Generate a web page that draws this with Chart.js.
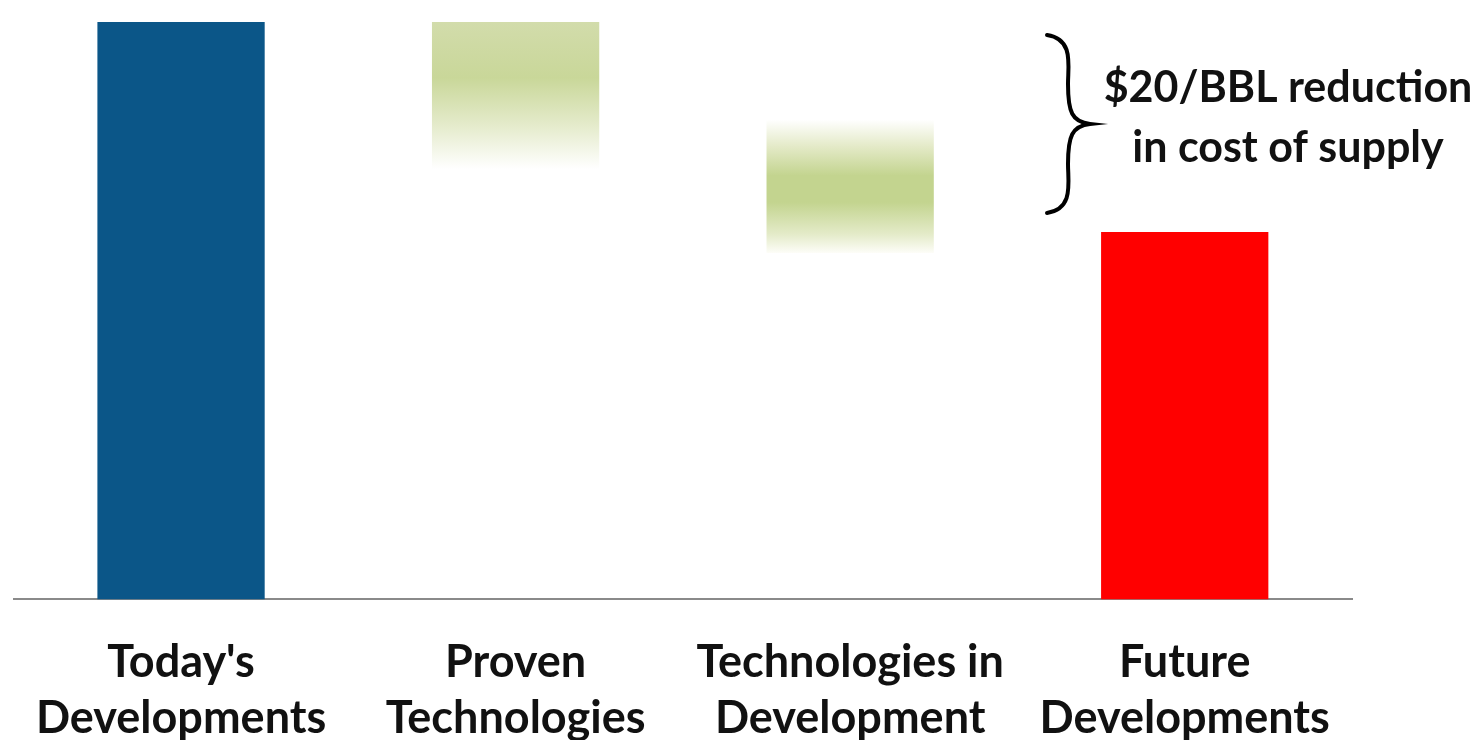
<!DOCTYPE html>
<html>
<head>
<meta charset="utf-8">
<script src="https://cdn.jsdelivr.net/npm/chart.js@4.4.1/dist/chart.umd.min.js"></script>
<style>
  html, body { margin: 0; padding: 0; background: #fff; }
  .chart-box { width: 1479px; height: 740px; }
</style>
</head>
<body>
<div class="chart-box"><canvas id="chart"></canvas></div>
<script>
const categories = [
  ["Today's", 'Developments'],
  ['Proven', 'Technologies'],
  ['Technologies in', 'Development'],
  ['Future', 'Developments'],
];
// floating bars: bottom and top of each bar ($/BBL)
const barLow = [0, 41, 33, 0];
const barHigh = [55, 55, 45.7, 35];
const reductionFrom = 55;
const reductionTo = 35;
const reductionText = ['$20/BBL reduction', 'in cost of supply'];

const FONT = 'Lato, "Open Sans", sans-serif';

function barColor(ctx) {
  const i = ctx.dataIndex;
  if (i === 0) return '#0b5688';
  if (i === 3) return '#ff0000';
  const chart = ctx.chart;
  const y = chart.scales.y;
  if (!y || !chart.chartArea) return '#c9d79a';
  const top = y.getPixelForValue(barHigh[i]);
  const bot = y.getPixelForValue(barLow[i]);
  const g = chart.ctx.createLinearGradient(0, top, 0, bot);
  if (i === 1) {
    g.addColorStop(0, '#d2dcab');
    g.addColorStop(0.38, '#c9d799');
    g.addColorStop(0.72, '#e6ecce');
    g.addColorStop(1, '#ffffff');
  } else {
    g.addColorStop(0, '#ffffff');
    g.addColorStop(0.2, '#e4eac8');
    g.addColorStop(0.42, '#c3d48f');
    g.addColorStop(0.62, '#c3d48f');
    g.addColorStop(0.86, '#e4ebc9');
    g.addColorStop(1, '#fdfdf8');
  }
  return g;
}

// curly brace + note on the right
const bracePlugin = {
  id: 'brace',
  afterDatasetsDraw(chart) {
    const { ctx } = chart;
    const y = chart.scales.y;
    const y1 = y.getPixelForValue(reductionFrom) + 13;
    const y2 = y.getPixelForValue(reductionTo) - 19;
    const mid = (y1 + y2) / 2;
    const x0 = 1047, xm = 1068, xt = 1090;
    ctx.save();
    ctx.strokeStyle = '#000';
    ctx.lineWidth = 4;
    ctx.lineCap = 'round';
    ctx.beginPath();
    ctx.moveTo(x0, y1);
    ctx.bezierCurveTo(xm + 6, y1 + 4, xm, y1 + 30, xm, mid - 40);
    ctx.bezierCurveTo(xm, mid - 12, xm + 4, mid - 2, xt, mid);
    ctx.bezierCurveTo(xm + 4, mid + 2, xm, mid + 12, xm, mid + 40);
    ctx.bezierCurveTo(xm, y2 - 30, xm + 6, y2 - 4, x0, y2);
    ctx.stroke();
    ctx.fillStyle = '#111';
    ctx.font = 'bold 43px ' + FONT;
    ctx.textAlign = 'center';
    ctx.textBaseline = 'middle';
    ctx.fillText(reductionText[0], 1288, mid - 36);
    ctx.fillText(reductionText[1], 1288, mid + 24);
    ctx.restore();
  }
};

new Chart(document.getElementById('chart'), {
  type: 'bar',
  data: {
    labels: categories,
    datasets: [{
      data: barLow.map((lo, i) => [lo, barHigh[i]]),
      backgroundColor: barColor,
      borderWidth: 0,
      barPercentage: 0.5,
      categoryPercentage: 1,
    }],
  },
  options: {
    responsive: true,
    maintainAspectRatio: false,
    animation: false,
    layout: { padding: { top: 22, left: 7, right: 127, bottom: -41 } },
    plugins: {
      legend: { display: false },
      tooltip: { enabled: false },
    },
    scales: {
      y: {
        display: false,
        min: 0,
        max: 55,
      },
      x: {
        grid: { display: false, drawTicks: false },
        border: { display: true, color: '#8a8a8a', width: 2 },
        ticks: {
          color: '#111',
          padding: 35,
          maxRotation: 0,
          font: { family: FONT, size: 45, weight: 'bold', lineHeight: 1.24 },
        },
      },
    },
  },
  plugins: [bracePlugin],
});
</script>
</body>
</html>
